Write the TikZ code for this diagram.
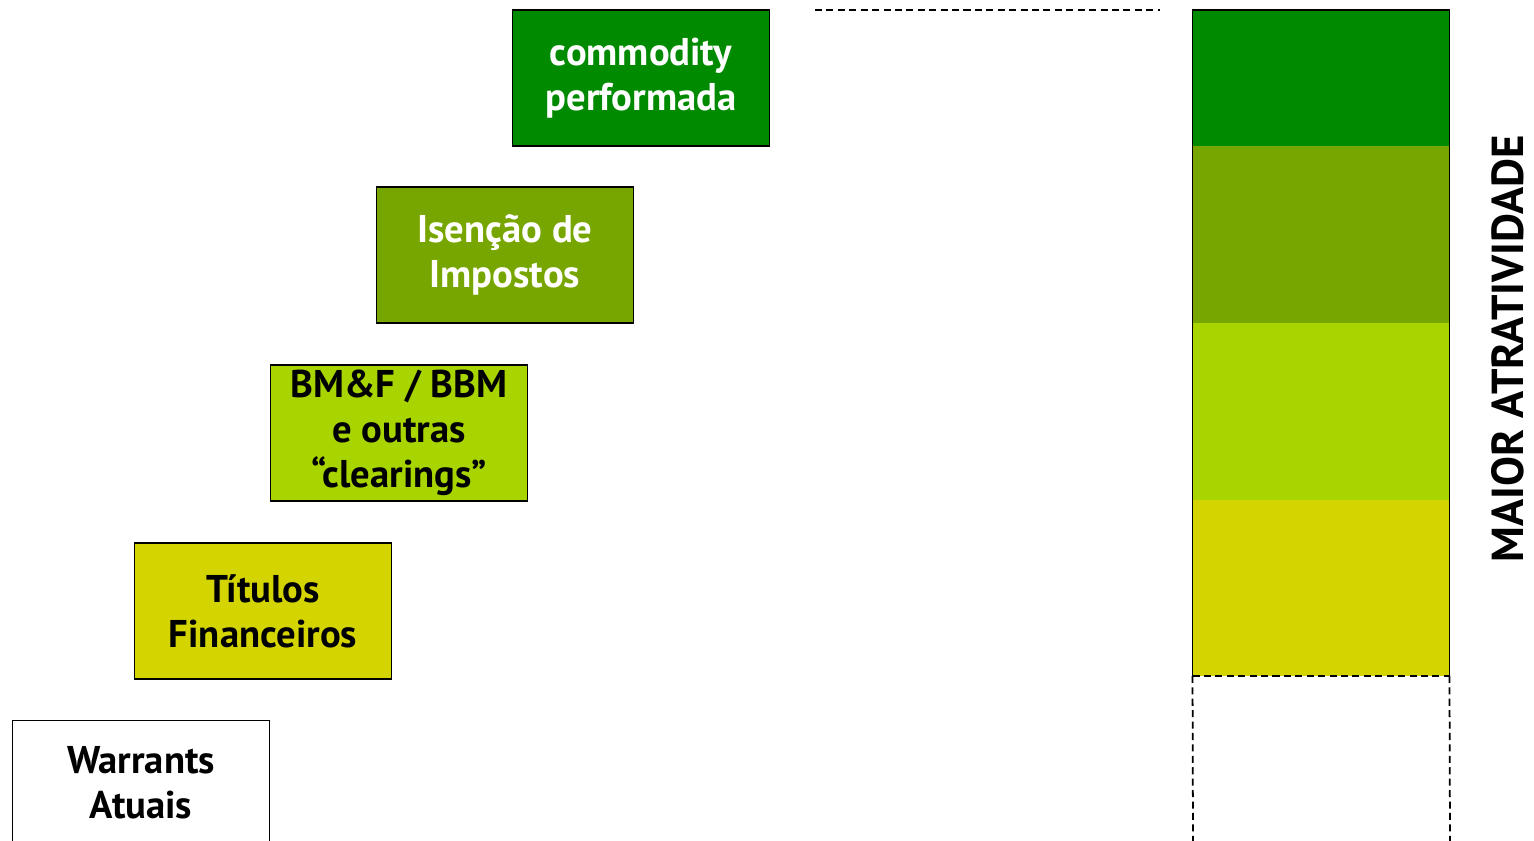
\documentclass[tikz,border=0pt]{standalone}
\usepackage{fontspec}
\setmainfont{PT Sans}
\usetikzlibrary{positioning}

\definecolor{nivelA}{RGB}{0,138,0}
\definecolor{nivelB}{RGB}{120,166,0}
\definecolor{nivelC}{RGB}{168,212,0}
\definecolor{nivelD}{RGB}{212,212,0}

\tikzset{
  degrau/.style={draw=black, line width=1pt, minimum width=5.14cm, minimum height=2.72cm,
    align=center, font=\fontsize{22}{25.5}\selectfont\bfseries, inner sep=0pt},
  faixa/.style={minimum width=5.14cm, minimum height=3.54cm, inner sep=0pt, outer sep=0pt},
  tracejado/.style={line width=1pt, dash pattern=on 4pt off 2.5pt}
}

\begin{document}
\begin{tikzpicture}[x=0.02cm, y=-0.02cm]
\useasboundingbox (0,0) rectangle (1534,840);

\node [degrau, fill=nivelA, text=white] (commodity) at (641,78) {commodity\\performada};
\node [degrau, fill=nivelB, text=white] (isencao) at (505,255) {Isenção de\\Impostos};
\node [degrau, fill=nivelC] (clearings) at (399,433) {BM\&F / BBM\\e outras\\“clearings”};
\node [degrau, fill=nivelD] (titulos) at (263,611) {Títulos\\Financeiros};
\node [degrau, fill=white, minimum height=2.5cm] (warrants) at (141,783) {Warrants\\Atuais};

\node [faixa, fill=nivelA, minimum height=2.72cm, anchor=north] (barraA) at (1321,10) {};
\node [faixa, fill=nivelB, anchor=north] (barraB) at (barraA.south) {};
\node [faixa, fill=nivelC, anchor=north] (barraC) at (barraB.south) {};
\node [faixa, fill=nivelD, minimum height=3.52cm, anchor=north] (barraD) at (barraC.south) {};
\draw [line width=1pt] (barraD.south west) -- (barraA.north west) -- (barraA.north east) -- (barraD.south east);
\draw [tracejado] (barraD.south west) -- (barraD.south east);

\coordinate (baseE) at (barraD.south west);
\coordinate (baseD) at (barraD.south east);
\coordinate (fimE) at (1193,845);
\coordinate (fimD) at (1450,845);
\draw [tracejado] (baseE) -- (fimE);
\draw [tracejado] (baseD) -- (fimD);

\coordinate (guiaA) at (815,10);
\coordinate (guiaB) at (1160,10);
\draw [tracejado] (guiaA) -- (guiaB);

\node [rotate=90, font=\fontsize{25.5}{28}\selectfont\bfseries] (atratividade) at (1508,349) {MAIOR ATRATIVIDADE};

\end{tikzpicture}
\end{document}
